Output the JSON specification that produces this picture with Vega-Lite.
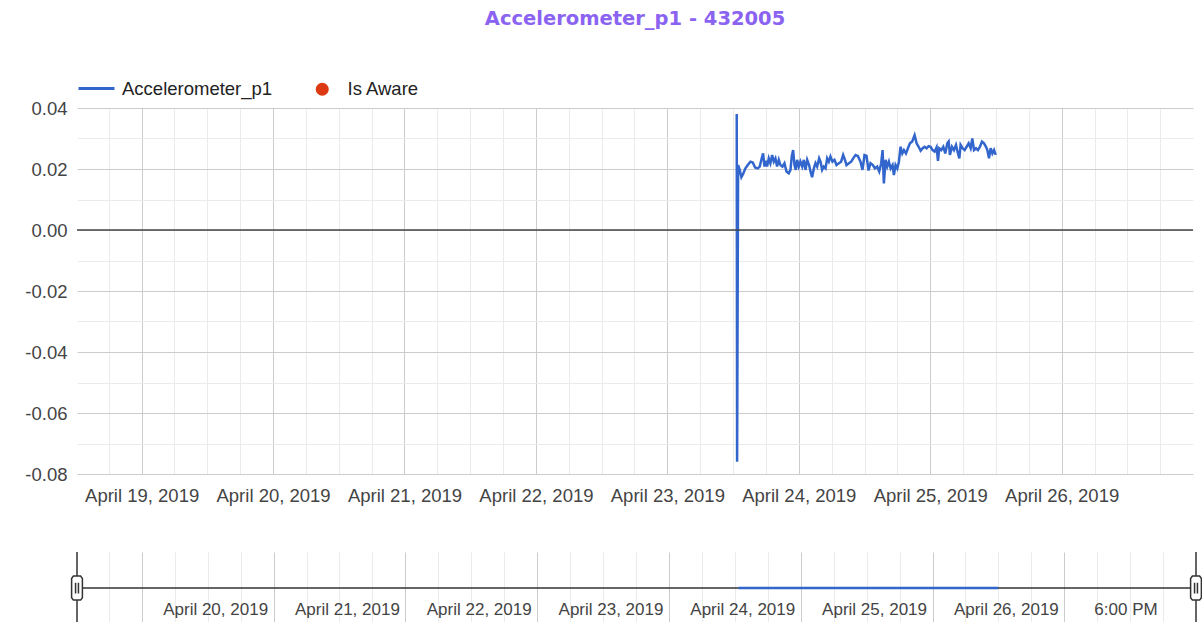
{
  "$schema": "https://vega.github.io/schema/vega-lite/v6.json",
  "background": "white",
  "padding": {"left": 24, "top": 8, "right": 0, "bottom": 0},
  "bounds": "flush",
  "spacing": 78,
  "config": {
    "view": {"stroke": null},
    "font": "Liberation Sans",
    "axis": {"labelFont": "Liberation Sans", "labelColor": "#444444", "title": null, "domain": false, "ticks": false}
  },
  "datasets": {
    "acc": [
      {"t":"2019-04-23T12:40:00Z","v":0.038},
      {"t":"2019-04-23T12:44:00Z","v":-0.076},
      {"t":"2019-04-23T12:55:00Z","v":0.0213},
      {"t":"2019-04-23T13:13:00Z","v":0.0197},
      {"t":"2019-04-23T13:31:00Z","v":0.0173},
      {"t":"2019-04-23T13:50:00Z","v":0.0184},
      {"t":"2019-04-23T14:15:00Z","v":0.0202},
      {"t":"2019-04-23T14:41:00Z","v":0.0213},
      {"t":"2019-04-23T15:10:00Z","v":0.0224},
      {"t":"2019-04-23T15:36:00Z","v":0.0221},
      {"t":"2019-04-23T16:01:00Z","v":0.0205},
      {"t":"2019-04-23T16:30:00Z","v":0.0202},
      {"t":"2019-04-23T16:52:00Z","v":0.0208},
      {"t":"2019-04-23T17:14:00Z","v":0.0235},
      {"t":"2019-04-23T17:29:00Z","v":0.0251},
      {"t":"2019-04-23T17:44:00Z","v":0.0208},
      {"t":"2019-04-23T17:58:00Z","v":0.0227},
      {"t":"2019-04-23T18:13:00Z","v":0.0208},
      {"t":"2019-04-23T18:31:00Z","v":0.0235},
      {"t":"2019-04-23T18:49:00Z","v":0.0219},
      {"t":"2019-04-23T19:08:00Z","v":0.0246},
      {"t":"2019-04-23T19:26:00Z","v":0.0224},
      {"t":"2019-04-23T19:44:00Z","v":0.0235},
      {"t":"2019-04-23T20:02:00Z","v":0.0208},
      {"t":"2019-04-23T20:21:00Z","v":0.023},
      {"t":"2019-04-23T20:39:00Z","v":0.0213},
      {"t":"2019-04-23T21:01:00Z","v":0.0208},
      {"t":"2019-04-23T21:23:00Z","v":0.0219},
      {"t":"2019-04-23T21:45:00Z","v":0.0192},
      {"t":"2019-04-23T22:10:00Z","v":0.0186},
      {"t":"2019-04-23T22:29:00Z","v":0.0197},
      {"t":"2019-04-23T22:43:00Z","v":0.0241},
      {"t":"2019-04-23T22:58:00Z","v":0.0262},
      {"t":"2019-04-23T23:13:00Z","v":0.0213},
      {"t":"2019-04-23T23:27:00Z","v":0.0197},
      {"t":"2019-04-23T23:42:00Z","v":0.023},
      {"t":"2019-04-24T00:00:00Z","v":0.0208},
      {"t":"2019-04-24T00:18:00Z","v":0.0224},
      {"t":"2019-04-24T00:37:00Z","v":0.0208},
      {"t":"2019-04-24T00:55:00Z","v":0.023},
      {"t":"2019-04-24T01:13:00Z","v":0.0197},
      {"t":"2019-04-24T01:32:00Z","v":0.023},
      {"t":"2019-04-24T01:53:00Z","v":0.0213},
      {"t":"2019-04-24T02:08:00Z","v":0.0192},
      {"t":"2019-04-24T02:26:00Z","v":0.0173},
      {"t":"2019-04-24T02:45:00Z","v":0.0202},
      {"t":"2019-04-24T03:03:00Z","v":0.0219},
      {"t":"2019-04-24T03:21:00Z","v":0.0208},
      {"t":"2019-04-24T03:43:00Z","v":0.0235},
      {"t":"2019-04-24T03:58:00Z","v":0.0224},
      {"t":"2019-04-24T04:16:00Z","v":0.0197},
      {"t":"2019-04-24T04:34:00Z","v":0.0208},
      {"t":"2019-04-24T04:53:00Z","v":0.0202},
      {"t":"2019-04-24T05:11:00Z","v":0.0235},
      {"t":"2019-04-24T05:29:00Z","v":0.0224},
      {"t":"2019-04-24T05:47:00Z","v":0.0241},
      {"t":"2019-04-24T06:09:00Z","v":0.0224},
      {"t":"2019-04-24T06:31:00Z","v":0.023},
      {"t":"2019-04-24T06:53:00Z","v":0.0213},
      {"t":"2019-04-24T07:19:00Z","v":0.0219},
      {"t":"2019-04-24T07:44:00Z","v":0.0224},
      {"t":"2019-04-24T08:06:00Z","v":0.0246},
      {"t":"2019-04-24T08:25:00Z","v":0.0231},
      {"t":"2019-04-24T08:43:00Z","v":0.0213},
      {"t":"2019-04-24T09:09:00Z","v":0.0219},
      {"t":"2019-04-24T09:34:00Z","v":0.0224},
      {"t":"2019-04-24T09:56:00Z","v":0.0235},
      {"t":"2019-04-24T10:22:00Z","v":0.0246},
      {"t":"2019-04-24T10:47:00Z","v":0.0243},
      {"t":"2019-04-24T11:16:00Z","v":0.0224},
      {"t":"2019-04-24T11:38:00Z","v":0.0197},
      {"t":"2019-04-24T12:00:00Z","v":0.0246},
      {"t":"2019-04-24T12:22:00Z","v":0.0243},
      {"t":"2019-04-24T12:44:00Z","v":0.0195},
      {"t":"2019-04-24T13:06:00Z","v":0.0219},
      {"t":"2019-04-24T13:32:00Z","v":0.0213},
      {"t":"2019-04-24T13:54:00Z","v":0.0202},
      {"t":"2019-04-24T14:19:00Z","v":0.0208},
      {"t":"2019-04-24T14:41:00Z","v":0.0192},
      {"t":"2019-04-24T15:03:00Z","v":0.0219},
      {"t":"2019-04-24T15:18:00Z","v":0.0262},
      {"t":"2019-04-24T15:32:00Z","v":0.0153},
      {"t":"2019-04-24T15:51:00Z","v":0.023},
      {"t":"2019-04-24T16:09:00Z","v":0.0208},
      {"t":"2019-04-24T16:27:00Z","v":0.0224},
      {"t":"2019-04-24T16:46:00Z","v":0.0202},
      {"t":"2019-04-24T17:07:00Z","v":0.0213},
      {"t":"2019-04-24T17:22:00Z","v":0.018},
      {"t":"2019-04-24T17:40:00Z","v":0.0213},
      {"t":"2019-04-24T17:59:00Z","v":0.0202},
      {"t":"2019-04-24T18:17:00Z","v":0.0224},
      {"t":"2019-04-24T18:35:00Z","v":0.0273},
      {"t":"2019-04-24T18:54:00Z","v":0.0251},
      {"t":"2019-04-24T19:12:00Z","v":0.0262},
      {"t":"2019-04-24T19:34:00Z","v":0.0251},
      {"t":"2019-04-24T19:56:00Z","v":0.0268},
      {"t":"2019-04-24T20:18:00Z","v":0.0284},
      {"t":"2019-04-24T20:43:00Z","v":0.029},
      {"t":"2019-04-24T21:09:00Z","v":0.0311},
      {"t":"2019-04-24T21:31:00Z","v":0.0284},
      {"t":"2019-04-24T21:53:00Z","v":0.0273},
      {"t":"2019-04-24T22:15:00Z","v":0.026},
      {"t":"2019-04-24T22:37:00Z","v":0.0268},
      {"t":"2019-04-24T22:58:00Z","v":0.0273},
      {"t":"2019-04-24T23:20:00Z","v":0.0268},
      {"t":"2019-04-24T23:42:00Z","v":0.0275},
      {"t":"2019-04-25T00:04:00Z","v":0.0273},
      {"t":"2019-04-25T00:26:00Z","v":0.0262},
      {"t":"2019-04-25T00:48:00Z","v":0.0257},
      {"t":"2019-04-25T01:10:00Z","v":0.0271},
      {"t":"2019-04-25T01:25:00Z","v":0.0227},
      {"t":"2019-04-25T01:39:00Z","v":0.0268},
      {"t":"2019-04-25T02:01:00Z","v":0.0262},
      {"t":"2019-04-25T02:23:00Z","v":0.0273},
      {"t":"2019-04-25T02:45:00Z","v":0.0251},
      {"t":"2019-04-25T03:07:00Z","v":0.0284},
      {"t":"2019-04-25T03:22:00Z","v":0.029},
      {"t":"2019-04-25T03:36:00Z","v":0.0246},
      {"t":"2019-04-25T03:58:00Z","v":0.0273},
      {"t":"2019-04-25T04:20:00Z","v":0.0262},
      {"t":"2019-04-25T04:42:00Z","v":0.0279},
      {"t":"2019-04-25T05:04:00Z","v":0.0251},
      {"t":"2019-04-25T05:19:00Z","v":0.0235},
      {"t":"2019-04-25T05:33:00Z","v":0.0279},
      {"t":"2019-04-25T05:55:00Z","v":0.0268},
      {"t":"2019-04-25T06:17:00Z","v":0.0262},
      {"t":"2019-04-25T06:39:00Z","v":0.0273},
      {"t":"2019-04-25T07:01:00Z","v":0.0284},
      {"t":"2019-04-25T07:23:00Z","v":0.0268},
      {"t":"2019-04-25T07:41:00Z","v":0.03},
      {"t":"2019-04-25T08:00:00Z","v":0.0262},
      {"t":"2019-04-25T08:22:00Z","v":0.0268},
      {"t":"2019-04-25T08:43:00Z","v":0.0262},
      {"t":"2019-04-25T09:05:00Z","v":0.0273},
      {"t":"2019-04-25T09:27:00Z","v":0.029},
      {"t":"2019-04-25T09:49:00Z","v":0.0284},
      {"t":"2019-04-25T10:11:00Z","v":0.0273},
      {"t":"2019-04-25T10:26:00Z","v":0.0262},
      {"t":"2019-04-25T10:44:00Z","v":0.0235},
      {"t":"2019-04-25T11:02:00Z","v":0.0268},
      {"t":"2019-04-25T11:21:00Z","v":0.0251},
      {"t":"2019-04-25T11:39:00Z","v":0.0262},
      {"t":"2019-04-25T11:57:00Z","v":0.0246}
    ],
    "ends": [
      {"t":"2019-04-18T12:12:00Z"},
      {"t":"2019-04-26T23:59:00Z"}
    ]
  },
  "vconcat": [
    {
      "width": 1116,
      "height": 366,
      "title": {"text": "Accelerometer_p1 - 432005", "font": "DejaVu Sans", "fontSize": 19.5, "fontWeight": "bold", "color": "#8b63f1", "anchor": "middle", "frame": "group", "offset": 70},
      "layer": [
        {
          "data": {"name": "acc"},
          "mark": {"type": "line", "strokeWidth": 2.5},
          "encoding": {
            "x": {
              "field": "t", "type": "temporal",
              "scale": {"type": "utc", "domain": [1555589520000, 1556323140000]},
              "axis": {
                "tickCount": 60,
                "values": [1555610400000,1555632000000,1555653600000,1555675200000,1555696800000,1555718400000,1555740000000,1555761600000,1555783200000,1555804800000,1555826400000,1555848000000,1555869600000,1555891200000,1555912800000,1555934400000,1555956000000,1555977600000,1555999200000,1556020800000,1556042400000,1556064000000,1556085600000,1556107200000,1556128800000,1556150400000,1556172000000,1556193600000,1556215200000,1556236800000,1556258400000,1556280000000,1556301600000],
                "grid": true,
                "gridColor": {"condition": {"test": "round(datum.index * 32) % 4 == 1", "value": "#cccccc"}, "value": "#ebebeb"},
                "labelExpr": "round(datum.index * 32) % 4 == 1 ? 'April ' + (19 + (round(datum.index * 32) - 1) / 4) + ', 2019' : ''",
                "labelOverlap": false, "labelFlush": false,
                "labelFontSize": 18.5, "labelPadding": 12
              }
            },
            "y": {
              "field": "v", "type": "quantitative",
              "scale": {"domain": [-0.08, 0.04], "nice": false, "zero": false},
              "axis": {
                "tickCount": 30,
                "values": [-0.08, -0.07, -0.06, -0.05, -0.04, -0.03, -0.02, -0.01, 0, 0.01, 0.02, 0.03, 0.04],
                "grid": true,
                "gridColor": {"condition": {"test": "abs(round(datum.value * 100)) % 2 == 0", "value": "#cccccc"}, "value": "#ebebeb"},
                "labelExpr": "abs(round(datum.value * 100)) % 2 == 0 ? (datum.value < -0.001 ? '-' : '') + format(abs(datum.value), '.2f') : ''",
                "labelFontSize": 18.5, "labelPadding": 10
              }
            },
            "color": {
              "datum": "Accelerometer_p1",
              "scale": {"range": ["#3366cc"]},
              "legend": {"title": null, "orient": "none", "legendX": 0, "legendY": -39, "direction": "horizontal", "symbolType": "stroke", "symbolSize": 1296, "symbolStrokeWidth": 3, "labelFont": "Liberation Sans", "labelFontSize": 18.5, "labelColor": "#222222", "labelOffset": 6, "padding": 0}
            }
          }
        },
        {
          "data": {"values": [{"part": "zero"}]},
          "mark": {"type": "rule", "color": "#444444", "strokeWidth": 1.5},
          "encoding": {"y": {"datum": 0, "type": "quantitative"}}
        },
        {
          "data": {"name": "acc"},
          "transform": [{"filter": "datum.v > 1"}],
          "mark": {"type": "point", "filled": true, "opacity": 1},
          "encoding": {
            "x": {"field": "t", "type": "temporal"},
            "y": {"field": "v", "type": "quantitative"},
            "fill": {
              "datum": "Is Aware",
              "scale": {"range": ["#dc3912"]},
              "legend": {"title": null, "orient": "none", "legendX": 236, "legendY": -28, "direction": "horizontal", "symbolType": "circle", "symbolSize": 169, "symbolOpacity": 1, "labelFont": "Liberation Sans", "labelFontSize": 18.5, "labelColor": "#222222", "labelOffset": 16, "padding": 0}
            }
          }
        }
      ]
    },
    {
      "width": 1119,
      "height": 70,
      "layer": [
        {
          "data": {"values": [{"part": "baseline"}]},
          "mark": {"type": "rule", "color": "#333333", "strokeWidth": 1.5},
          "encoding": {
            "y": {"datum": 0, "type": "quantitative", "scale": {"domain": [-0.94, 1], "nice": false, "zero": false}, "axis": null}
          }
        },
        {
          "data": {"name": "acc"},
          "mark": {"type": "line", "color": "#3366cc", "strokeWidth": 2.5},
          "encoding": {
            "x": {
              "field": "t", "type": "temporal",
              "scale": {"type": "utc", "domain": [1555589520000, 1556323140000]},
              "axis": {
                "offset": -13,
                "tickCount": 60,
                "values": [1555610400000,1555632000000,1555653600000,1555675200000,1555696800000,1555718400000,1555740000000,1555761600000,1555783200000,1555804800000,1555826400000,1555848000000,1555869600000,1555891200000,1555912800000,1555934400000,1555956000000,1555977600000,1555999200000,1556020800000,1556042400000,1556064000000,1556085600000,1556107200000,1556128800000,1556150400000,1556172000000,1556193600000,1556215200000,1556236800000,1556258400000,1556280000000,1556301600000],
                "grid": true,
                "gridColor": {"condition": {"test": "round(datum.index * 32) % 4 == 1", "value": "#cccccc"}, "value": "#ebebeb"},
                "labelExpr": "round(datum.index * 32) == 32 ? '6:00 PM' : (round(datum.index * 32) % 4 == 1 && round(datum.index * 32) >= 5 ? 'April ' + (19 + (round(datum.index * 32) - 1) / 4) + ', 2019' : '')",
                "labelAlign": "right", "labelBaseline": "middle", "labelPadding": 0, "labelOffset": -6,
                "labelOverlap": false, "labelFlush": false,
                "labelFontSize": 17
              }
            },
            "y": {"datum": 0, "type": "quantitative"}
          }
        },
        {
          "data": {"name": "ends"},
          "mark": {"type": "rule", "color": "#333333", "strokeWidth": 1.5},
          "encoding": {
            "x": {"field": "t", "type": "temporal"}
          }
        },
        {
          "data": {"name": "ends"},
          "mark": {"type": "point", "filled": false, "fill": "white", "fillOpacity": 1, "stroke": "#333333", "strokeWidth": 1.5, "opacity": 1, "size": 576, "shape": "M-0.3,-1 L0.3,-1 L0.45,-0.8 L0.45,0.8 L0.3,1 L-0.3,1 L-0.45,0.8 L-0.45,-0.8 Z M-0.12,-0.45 L-0.12,0.45 M0.12,-0.45 L0.12,0.45"},
          "encoding": {
            "x": {"field": "t", "type": "temporal"},
            "y": {"datum": 0, "type": "quantitative"}
          }
        }
      ]
    }
  ]
}
